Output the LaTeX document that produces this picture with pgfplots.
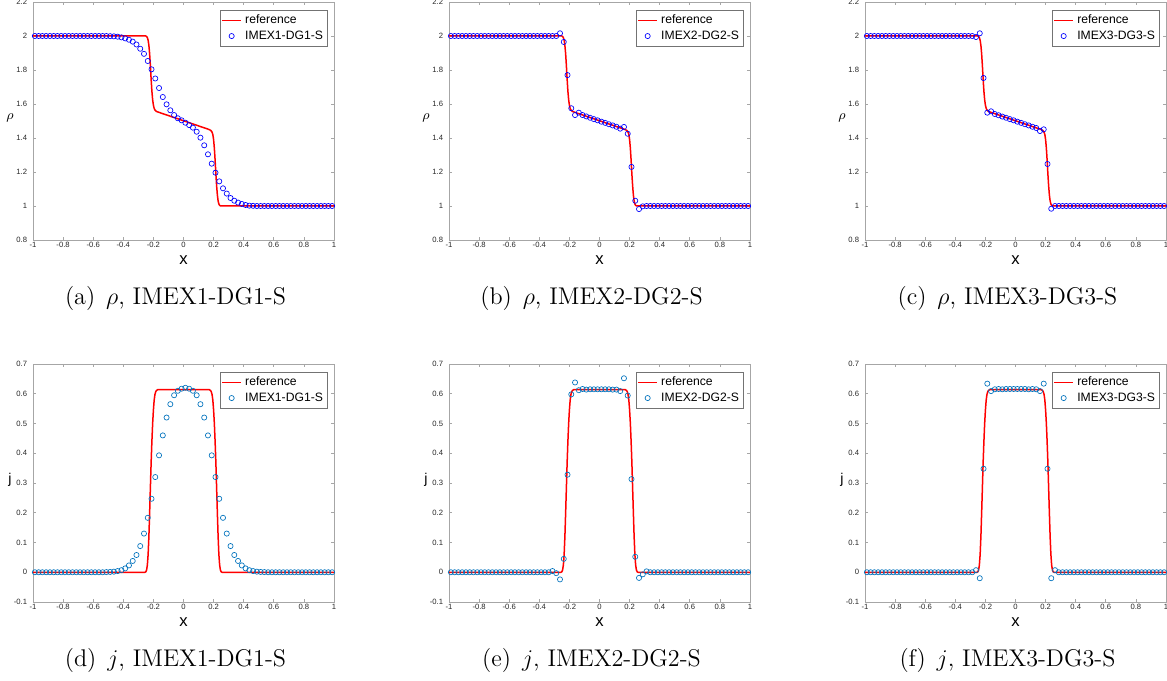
\documentclass[border=0pt]{standalone}
\usepackage{fontspec}
\setsansfont{Liberation Sans}
\usepackage{pgfplots}
\usepackage{pgfplotstable}
\pgfplotsset{compat=1.18}

\definecolor{mblue}{rgb}{0,0.447,0.741}

% numerical solutions, 80 cells
\pgfplotstableread{
x r1 r2 r3
-0.9875 2 2 2
-0.9625 2 2 2
-0.9375 2 2 2
-0.9125 2 2 2
-0.8875 2 2 2
-0.8625 2 2 2
-0.8375 2 2 2
-0.8125 2 2 2
-0.7875 2 2 2
-0.7625 2 2 2
-0.7375 2 2 2
-0.7125 2 2 2
-0.6875 2 2 2
-0.6625 2 2 2
-0.6375 2 2 2
-0.6125 2 2 2
-0.5875 2 2 2
-0.5625 2 2 2
-0.5375 2 2 2
-0.5125 2 2 2
-0.4875 1.999 2 2
-0.4625 1.998 2 2
-0.4375 1.996 2 2
-0.4125 1.992 2 2
-0.3875 1.986 2 2
-0.3625 1.978 2 2
-0.3375 1.967 2 2
-0.3125 1.950 2 2
-0.2875 1.925 2 2
-0.2625 1.895 2.016 1.994
-0.2375 1.853 1.965 2.016
-0.2125 1.804 1.770 1.753
-0.1875 1.750 1.575 1.549
-0.1625 1.694 1.535 1.557
-0.1375 1.641 1.549 1.541
-0.1125 1.598 1.535 1.534
-0.0875 1.563 1.527 1.526
-0.0625 1.535 1.519 1.519
-0.0375 1.516 1.511 1.511
-0.0125 1.504 1.504 1.504
0.0125 1.490 1.496 1.496
0.0375 1.476 1.489 1.489
0.0625 1.461 1.481 1.481
0.0875 1.437 1.474 1.474
0.1125 1.402 1.466 1.466
0.1375 1.357 1.455 1.459
0.1625 1.304 1.465 1.441
0.1875 1.249 1.425 1.451
0.2125 1.196 1.230 1.247
0.2375 1.145 1.031 0.984
0.2625 1.104 0.982 1.000
0.2875 1.073 0.998 1
0.3125 1.047 1 1
0.3375 1.031 1 1
0.3625 1.020 1 1
0.3875 1.012 1 1
0.4125 1.006 1 1
0.4375 1.002 1 1
0.4625 1.001 1 1
0.4875 1 1 1
0.5125 1 1 1
0.5375 1 1 1
0.5625 1 1 1
0.5875 1 1 1
0.6125 1 1 1
0.6375 1 1 1
0.6625 1 1 1
0.6875 1 1 1
0.7125 1 1 1
0.7375 1 1 1
0.7625 1 1 1
0.7875 1 1 1
0.8125 1 1 1
0.8375 1 1 1
0.8625 1 1 1
0.8875 1 1 1
0.9125 1 1 1
0.9375 1 1 1
0.9625 1 1 1
0.9875 1 1 1
}\rhotab

\pgfplotstableread{
x j1 j2 j3
-0.9875 0 0 0
-0.9625 0 0 0
-0.9375 0 0 0
-0.9125 0 0 0
-0.8875 0 0 0
-0.8625 0 0 0
-0.8375 0 0 0
-0.8125 0 0 0
-0.7875 0 0 0
-0.7625 0 0 0
-0.7375 0 0 0
-0.7125 0 0 0
-0.6875 0 0 0
-0.6625 0 0 0
-0.6375 0 0 0
-0.6125 0 0 0
-0.5875 0 0 0
-0.5625 0 0 0
-0.5375 0 0 0
-0.5125 0.0005 0 0
-0.4875 0.001 0 0
-0.4625 0.002 0 0
-0.4375 0.004 0 0
-0.4125 0.007 0 0
-0.3875 0.013 0 0
-0.3625 0.023 0 0
-0.3375 0.038 0 0
-0.3125 0.058 0.004 0
-0.2875 0.088 -0.003 0
-0.2625 0.130 -0.024 0.007
-0.2375 0.183 0.045 -0.020
-0.2125 0.247 0.328 0.348
-0.1875 0.320 0.598 0.634
-0.1625 0.393 0.638 0.609
-0.1375 0.460 0.612 0.615
-0.1125 0.520 0.616 0.616
-0.0875 0.565 0.614 0.615
-0.0625 0.595 0.615 0.616
-0.0375 0.610 0.615 0.616
-0.0125 0.617 0.615 0.616
0.0125 0.620 0.615 0.616
0.0375 0.617 0.615 0.616
0.0625 0.610 0.615 0.616
0.0875 0.595 0.614 0.615
0.1125 0.565 0.614 0.616
0.1375 0.520 0.609 0.615
0.1625 0.460 0.652 0.609
0.1875 0.393 0.594 0.634
0.2125 0.320 0.313 0.348
0.2375 0.247 0.052 -0.020
0.2625 0.183 -0.019 0.007
0.2875 0.130 -0.007 0
0.3125 0.088 0.003 0
0.3375 0.058 0 0
0.3625 0.038 0 0
0.3875 0.023 0 0
0.4125 0.013 0 0
0.4375 0.007 0 0
0.4625 0.004 0 0
0.4875 0.002 0 0
0.5125 0.001 0 0
0.5375 0.0005 0 0
0.5625 0 0 0
0.5875 0 0 0
0.6125 0 0 0
0.6375 0 0 0
0.6625 0 0 0
0.6875 0 0 0
0.7125 0 0 0
0.7375 0 0 0
0.7625 0 0 0
0.7875 0 0 0
0.8125 0 0 0
0.8375 0 0 0
0.8625 0 0 0
0.8875 0 0 0
0.9125 0 0 0
0.9375 0 0 0
0.9625 0 0 0
0.9875 0 0 0
}\jtab

% reference solutions
\pgfplotstableread{
x y
-1 2
-0.25 2
-0.245 1.997
-0.24 1.99
-0.235 1.975
-0.23 1.945
-0.225 1.895
-0.22 1.825
-0.215 1.745
-0.21 1.675
-0.205 1.625
-0.2 1.593
-0.195 1.575
-0.19 1.565
-0.18 1.556
0.17 1.450
0.18 1.445
0.185 1.441
0.19 1.434
0.195 1.42
0.2 1.39
0.205 1.34
0.21 1.27
0.215 1.19
0.22 1.12
0.225 1.065
0.23 1.03
0.235 1.012
0.24 1.004
0.245 1.001
0.25 1
1 1
}\rhoref

\pgfplotstableread{
x y
-1 0
-0.255 0
-0.25 0.002
-0.245 0.008
-0.24 0.025
-0.235 0.06
-0.23 0.12
-0.225 0.2
-0.22 0.285
-0.215 0.37
-0.21 0.44
-0.205 0.5
-0.2 0.545
-0.195 0.578
-0.19 0.597
-0.185 0.606
-0.18 0.611
-0.17 0.614
0.17 0.614
0.18 0.611
0.185 0.606
0.19 0.597
0.195 0.578
0.2 0.545
0.205 0.5
0.21 0.44
0.215 0.37
0.22 0.285
0.225 0.2
0.23 0.12
0.235 0.06
0.24 0.025
0.245 0.008
0.25 0.002
0.255 0
1 0
}\jref

\pgfplotsset{
  panel/.style={
    width=180.6pt, height=142.8pt, scale only axis,
    xmin=-1, xmax=1,
    xtick={-1,-0.8,-0.6,-0.4,-0.2,0,0.2,0.4,0.6,0.8,1},
    axis line style={black!35, line width=0.4pt},
    tick style={black!35, line width=0.4pt},
    major tick length=2pt, tick align=inside,
    ticklabel style={font=\fontsize{4.6}{5}\sffamily, text=black!85},
    xticklabel style={inner sep=1pt},
    /pgf/number format/assume math mode=true,
    /pgf/number format/fixed,
    xlabel={x},
    every axis x label/.style={at={(axis description cs:0.5,0)}, yshift=-12.3pt, anchor=center, inner sep=0.3pt, font=\fontsize{10}{11}\sffamily},
    every axis y label/.style={at={(axis description cs:0,0.5)}, xshift=-13.8pt, yshift=2pt, anchor=center, font=\fontsize{8.5}{9}\sffamily},
    legend style={at={(0.98,0.966)}, anchor=north east, draw=black!55, line width=0.4pt,
      font=\fontsize{7.3}{8}\sffamily, inner sep=0.8pt, row sep=-1.5pt, cells={anchor=west}},
    legend cell align=left,
  },
  rhopanel/.style={panel, ymin=0.8, ymax=2.2, ytick={0.8,1,1.2,1.4,1.6,1.8,2,2.2}, ylabel={$\rho$}},
  jpanel/.style={panel, ymin=-0.1, ymax=0.7, ytick={-0.1,0,0.1,0.2,0.3,0.4,0.5,0.6,0.7}, ylabel={j}},
  refline/.style={red, line width=0.9pt, no markers, line join=round,
    legend image code/.code={\draw[##1] (0pt,0pt) -- (11.4pt,0pt);}},
  circ/.style={only marks, mark=o, mark size=1.55pt, mark options={line width=0.4pt, draw=#1},
    legend image code/.code={\draw[##1] plot coordinates {(5.7pt,0pt)};}},
}

\begin{document}
\begin{tikzpicture}
\useasboundingbox (0,0) rectangle (700.2pt,-408.6pt);

\begin{axis}[rhopanel, at={(19.8pt,-144pt)}]
\addplot[refline] table[x=x,y=y]{\rhoref};
\addplot[circ=blue] table[x=x,y=r1]{\rhotab};
\legend{reference,IMEX1-DG1-S}
\end{axis}

\begin{axis}[rhopanel, at={(269.4pt,-144pt)}]
\addplot[refline] table[x=x,y=y]{\rhoref};
\addplot[circ=blue] table[x=x,y=r2]{\rhotab};
\legend{reference,IMEX2-DG2-S}
\end{axis}

\begin{axis}[rhopanel, at={(519pt,-144pt)}]
\addplot[refline] table[x=x,y=y]{\rhoref};
\addplot[circ=blue] table[x=x,y=r3]{\rhotab};
\legend{reference,IMEX3-DG3-S}
\end{axis}

\begin{axis}[jpanel, at={(19.8pt,-361.2pt)}]
\addplot[refline] table[x=x,y=y]{\jref};
\addplot[circ=mblue] table[x=x,y=j1]{\jtab};
\legend{reference,IMEX1-DG1-S}
\end{axis}

\begin{axis}[jpanel, at={(269.4pt,-361.2pt)}]
\addplot[refline] table[x=x,y=y]{\jref};
\addplot[circ=mblue] table[x=x,y=j2]{\jtab};
\legend{reference,IMEX2-DG2-S}
\end{axis}

\begin{axis}[jpanel, at={(519pt,-361.2pt)}]
\addplot[refline] table[x=x,y=y]{\jref};
\addplot[circ=mblue] table[x=x,y=j3]{\jtab};
\legend{reference,IMEX3-DG3-S}
\end{axis}

\begin{scope}[every node/.style={font=\fontsize{14.5}{16}\selectfont}]
\node at (105.3pt,-178.8pt) {(a)\hspace{0.45em}$\rho$, IMEX1-DG1-S};
\node at (354.9pt,-178.8pt) {(b)\hspace{0.45em}$\rho$, IMEX2-DG2-S};
\node at (604.5pt,-178.8pt) {(c)\hspace{0.45em}$\rho$, IMEX3-DG3-S};
\node at (105.3pt,-396pt) {(d)\hspace{0.45em}$j$, IMEX1-DG1-S};
\node at (354.9pt,-396pt) {(e)\hspace{0.45em}$j$, IMEX2-DG2-S};
\node at (604.5pt,-396pt) {(f)\hspace{0.45em}$j$, IMEX3-DG3-S};
\end{scope}
\end{tikzpicture}
\end{document}
